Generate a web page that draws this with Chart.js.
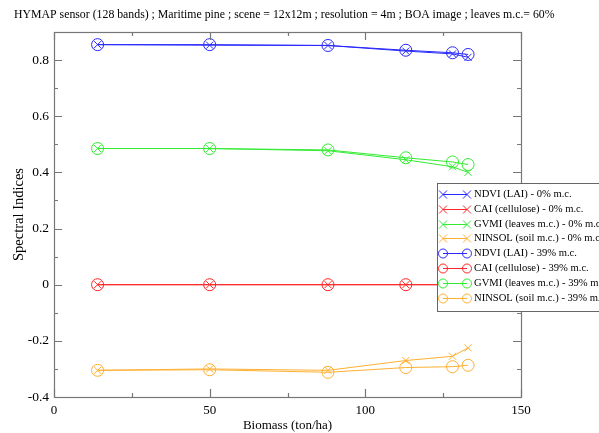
<!DOCTYPE html>
<html>
<head>
<meta charset="utf-8">
<script src="https://cdn.jsdelivr.net/npm/chart.js@4"></script>
<style>
  body { margin: 0; background: #fff; }
  #wrap { width: 599px; height: 433px; }
</style>
</head>
<body>
<div id="wrap"><canvas id="indexChart" width="599" height="433"></canvas></div>
<script>
// biomass values (ton/ha)
const biomass = [14, 50, 88, 113, 128, 133];

// spectral indices, leaves moisture content 0%
const ndvi0 = [0.855, 0.853, 0.852, 0.832, 0.822, 0.810];
const cai0 = [0, 0, 0, 0, 0, 0];
const gvmi0 = [0.485, 0.485, 0.477, 0.445, 0.420, 0.400];
const ninsol0 = [-0.305, -0.300, -0.305, -0.270, -0.255, -0.225];

// spectral indices, 39%
const ndvi39 = [0.855, 0.855, 0.852, 0.835, 0.826, 0.820];
const cai39 = [0, 0, 0, 0, 0, 0];
const gvmi39 = [0.485, 0.485, 0.480, 0.452, 0.437, 0.428];
const ninsol39 = [-0.305, -0.303, -0.312, -0.295, -0.292, -0.287];

const yTicks = [-0.4, -0.2, 0, 0.2, 0.4, 0.6, 0.8];
const xTicks = [0, 50, 100, 150];

const titleText = 'HYMAP sensor (128 bands) ; Maritime pine ; scene = 12x12m ; resolution = 4m ; BOA image ; leaves m.c.= 60%';
const FONT = "'Liberation Serif', 'DejaVu Serif', serif";

const BLUE = 'rgb(40,40,255)';
const RED = 'rgb(255,40,40)';
const GREEN = 'rgb(50,235,50)';
const ORANGE = 'rgb(255,175,50)';

function toPoints(vals) {
    return vals.map((v, i) => ({ x: biomass[i], y: v }));
}

function makeSet(label, vals, color, style) {
    return {
        label: label,
        data: toPoints(vals),
        borderColor: color,
        backgroundColor: 'rgba(0,0,0,0)',
        borderWidth: 1,
        pointStyle: style,
        pointRadius: style === 'circle' ? 6 : 5,
        pointBorderWidth: 1,
        pointBorderColor: color,
        pointBackgroundColor: 'rgba(0,0,0,0)',
        fill: false,
        tension: 0
    };
}

// tick marks pointing inward on all four sides, plus title
const framePlugin = {
    id: 'frame',
    afterDraw(chart) {
        const ctx = chart.ctx;
        const a = chart.chartArea;
        const xs = chart.scales.x, ys = chart.scales.y;
        ctx.save();
        ctx.strokeStyle = '#777';
        ctx.lineWidth = 1.2;
        ctx.strokeRect(a.left + 0.5, a.top + 0.5, a.right - a.left, a.bottom - a.top);
        ctx.beginPath();
        for (let v = 0; v <= 150; v += 25) {
            const px = Math.round(xs.getPixelForValue(v)) + 0.5;
            const len = v % 50 === 0 ? 8 : 4;
            ctx.moveTo(px, a.bottom); ctx.lineTo(px, a.bottom - len);
            ctx.moveTo(px, a.top); ctx.lineTo(px, a.top + len);
        }
        for (let k = -4; k <= 9; k++) {
            const v = k / 10;
            const py = Math.round(ys.getPixelForValue(v)) + 0.5;
            const len = k % 2 === 0 ? 8 : 4;
            ctx.moveTo(a.left, py); ctx.lineTo(a.left + len, py);
            ctx.moveTo(a.right, py); ctx.lineTo(a.right - len, py);
        }
        ctx.stroke();

        ctx.fillStyle = '#000';
        ctx.font = '11.8px ' + FONT;
        ctx.textBaseline = 'middle';
        ctx.textAlign = 'left';
        ctx.fillText(titleText, 14, 15);
        ctx.restore();
    }
};

// boxed legend drawn over the plot
const legendBox = {
    id: 'legendBox',
    afterDraw(chart) {
        const ctx = chart.ctx;
        const sets = chart.data.datasets;
        const left = 437, top = 183, w = 170, rowH = 14.8;
        const h = 128;
        ctx.save();
        ctx.fillStyle = '#fff';
        ctx.fillRect(left, top, w, h);
        ctx.strokeStyle = '#666';
        ctx.lineWidth = 1;
        ctx.strokeRect(left + 0.5, top + 0.5, w, h);
        ctx.font = '10.6px ' + FONT;
        ctx.textBaseline = 'middle';
        sets.forEach((ds, i) => {
            const y = Math.round(top + 11 + i * rowH) + 0.5;
            const x1 = left + 6, x2 = left + 30;
            ctx.strokeStyle = ds.borderColor;
            ctx.beginPath();
            ctx.moveTo(x1, y); ctx.lineTo(x2, y);
            ctx.stroke();
            [x1, x2].forEach(px => {
                ctx.beginPath();
                if (ds.pointStyle === 'circle') {
                    ctx.arc(px, y, 4.5, 0, Math.PI * 2);
                } else {
                    ctx.moveTo(px - 4, y - 4); ctx.lineTo(px + 4, y + 4);
                    ctx.moveTo(px - 4, y + 4); ctx.lineTo(px + 4, y - 4);
                }
                ctx.stroke();
            });
            ctx.fillStyle = '#000';
            ctx.fillText(ds.label, left + 37, y);
        });
        ctx.restore();
    }
};

new Chart(document.getElementById('indexChart').getContext('2d'), {
    type: 'line',
    data: {
        datasets: [
            makeSet('NDVI (LAI) - 0% m.c.', ndvi0, BLUE, 'crossRot'),
            makeSet('CAI (cellulose) - 0% m.c.', cai0, RED, 'crossRot'),
            makeSet('GVMI (leaves m.c.) - 0% m.c.', gvmi0, GREEN, 'crossRot'),
            makeSet('NINSOL (soil m.c.) - 0% m.c.', ninsol0, ORANGE, 'crossRot'),
            makeSet('NDVI (LAI) - 39% m.c.', ndvi39, BLUE, 'circle'),
            makeSet('CAI (cellulose) - 39% m.c.', cai39, RED, 'circle'),
            makeSet('GVMI (leaves m.c.) - 39% m.c.', gvmi39, GREEN, 'circle'),
            makeSet('NINSOL (soil m.c.) - 39% m.c.', ninsol39, ORANGE, 'circle')
        ]
    },
    options: {
        responsive: false,
        animation: false,
        layout: { padding: { top: 32, right: 78, left: 0, bottom: 0 } },
        plugins: {
            legend: { display: false },
            tooltip: { enabled: false }
        },
        scales: {
            x: {
                type: 'linear',
                min: 0,
                max: 150,
                afterBuildTicks: s => { s.ticks = xTicks.map(v => ({ value: v })); },
                afterFit: s => { s.height = 36; },
                grid: { display: false, drawTicks: false },
                border: { display: false },
                ticks: { color: '#000', padding: 6, font: { family: FONT, size: 13 }, maxRotation: 0 },
                title: { display: true, text: 'Biomass (ton/ha)', color: '#000', padding: 0, font: { family: FONT, size: 13 } }
            },
            y: {
                min: -0.4,
                max: 0.9,
                afterBuildTicks: s => { s.ticks = yTicks.map(v => ({ value: v })); },
                afterFit: s => { s.width = 54; },
                grid: { display: false, drawTicks: false },
                border: { display: false },
                ticks: {
                    color: '#000', padding: 5, font: { family: FONT, size: 13.5 },
                    callback: v => Math.abs(v) < 1e-9 ? '0' : String(Math.round(v * 10) / 10)
                },
                title: { display: true, text: 'Spectral Indices', color: '#000', padding: { top: 10, bottom: 0 }, font: { family: FONT, size: 14.5 } }
            }
        }
    },
    plugins: [framePlugin, legendBox]
});
</script>
</body>
</html>
